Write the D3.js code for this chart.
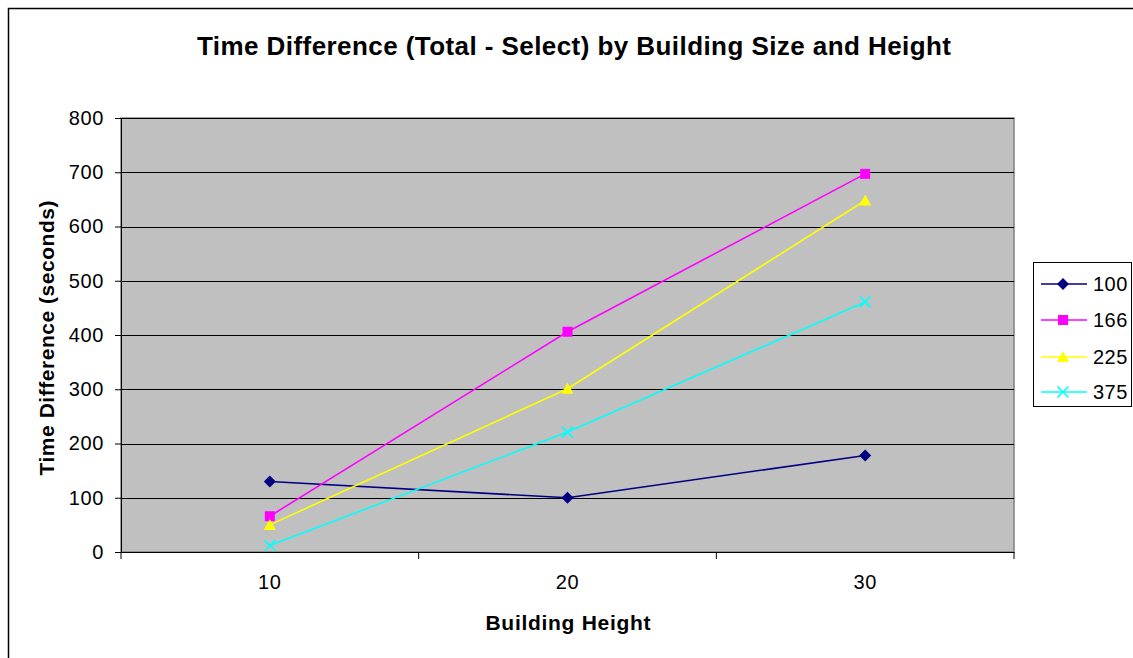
<!DOCTYPE html>
<html><head><meta charset="utf-8">
<script src="https://cdn.jsdelivr.net/npm/d3@7"></script>
<style>body{margin:0;background:#fff}svg{display:block;font-family:"Liberation Sans",Arial,sans-serif}</style>
</head><body><svg id="c" width="1133" height="658"></svg>
<script>
const categories = ["10", "20", "30"];
const seriesNames = ["100", "166", "225", "375"];
const s100 = [130, 100, 178];
const s166 = [66, 406, 697];
const s225 = [50, 301, 648];
const s375 = [12, 221, 461];
const yTicks = [0, 100, 200, 300, 400, 500, 600, 700, 800];
const colors = ["#000080", "#FF00FF", "#FFFF00", "#00FFFF"];
const symbols = ["diamond", "square", "triangle", "x"];

const seriesValues = [s100, s166, s225, s375];
const svg = d3.select("#c");
const L = 121, R = 1014, T = 118, B = 552;
const FONT = "Liberation Sans, Arial, sans-serif";

// outer border
svg.append("path").attr("d", "M8.5,660 V8.5 H1140").attr("fill", "none").attr("stroke", "#000").attr("stroke-width", 1.5);

const x = d3.scaleBand().domain(categories).range([L, R]);
const y = d3.scaleLinear().domain([0, 800]).range([B, T]);

svg.append("rect").attr("x", L).attr("y", T).attr("width", R - L).attr("height", B - T)
  .attr("fill", "#C0C0C0").attr("stroke", "#808080").attr("stroke-width", 1.5);

// gridlines
svg.append("g").selectAll("line").data(yTicks.filter(d => d > 0)).join("line")
  .attr("x1", L).attr("x2", R).attr("y1", d => Math.round(y(d)) + 0.5).attr("y2", d => Math.round(y(d)) + 0.5)
  .attr("stroke", "#000").attr("stroke-width", 1);

// y axis
const ya = svg.append("g").attr("transform", `translate(${L},0)`)
  .call(d3.axisLeft(y).tickValues(yTicks).tickSize(6).tickPadding(11));
ya.select(".domain").attr("stroke", "#000");
ya.selectAll("text").attr("font-size", 20).attr("fill", "#000").attr("font-family", FONT).attr("letter-spacing", 0.6);

// x axis
const xa = svg.append("g").attr("transform", `translate(0,${B})`)
  .call(d3.axisBottom(x).tickSize(0).tickPadding(23));
xa.select(".domain").attr("stroke", "#000");
xa.selectAll("text").attr("font-size", 20).attr("fill", "#000").attr("font-family", FONT).attr("letter-spacing", 0.6);
const bounds = [L, ...categories.map(c => x(c) + x.bandwidth())];
svg.append("g").selectAll("line").data(bounds).join("line")
  .attr("x1", d => d).attr("x2", d => d).attr("y1", B).attr("y2", B + 7).attr("stroke", "#000");

const shapes = {
  diamond: "M0,-6L6,0L0,6L-6,0Z",
  square: "M-5,-5H5V5H-5Z",
  triangle: "M0,-6L6,5H-6Z",
  x: "M-5.5,-5.5L5.5,5.5M-5.5,5.5L5.5,-5.5"
};
function drawMark(sel, i) {
  const isX = symbols[i] === "x";
  sel.attr("d", shapes[symbols[i]])
    .attr("fill", isX ? "none" : colors[i])
    .attr("stroke", colors[i]).attr("stroke-width", isX ? 1.6 : 0);
}

const line = d3.line().x((d, i) => x(categories[i]) + x.bandwidth() / 2).y(d => y(d));
seriesValues.forEach((vals, i) => {
  const g = svg.append("g");
  g.append("path").attr("d", line(vals)).attr("fill", "none").attr("stroke", colors[i]).attr("stroke-width", 1.6);
  g.selectAll("path.m").data(vals).join("path").attr("class", "m")
    .attr("transform", (d, j) => `translate(${x(categories[j]) + x.bandwidth() / 2},${y(d)})`)
    .call(drawMark, i);
});

// title
svg.append("text").attr("x", 574).attr("y", 55).attr("text-anchor", "middle")
  .attr("font-size", 26).attr("font-weight", "bold").attr("textLength", 754).attr("lengthAdjust", "spacing")
  .text("Time Difference (Total - Select) by Building Size and Height");
// axis titles
svg.append("text").attr("transform", `translate(54,338) rotate(-90)`).attr("text-anchor", "middle")
  .attr("font-size", 21).attr("font-weight", "bold").attr("textLength", 275).attr("lengthAdjust", "spacing")
  .text("Time Difference (seconds)");
svg.append("text").attr("x", 568).attr("y", 630).attr("text-anchor", "middle")
  .attr("font-size", 21).attr("font-weight", "bold").attr("textLength", 165).attr("lengthAdjust", "spacing")
  .text("Building Height");

// legend
const lg = svg.append("g");
lg.append("rect").attr("x", 1033.5).attr("y", 262.5).attr("width", 98).attr("height", 144)
  .attr("fill", "#fff").attr("stroke", "#000").attr("stroke-width", 1);
const ly = [284, 320, 357, 392];
seriesNames.forEach((n, i) => {
  lg.append("line").attr("x1", 1041).attr("x2", 1087).attr("y1", ly[i]).attr("y2", ly[i]).attr("stroke", colors[i]).attr("stroke-width", 1.6);
  lg.append("path").attr("transform", `translate(1063,${ly[i]})`).call(drawMark, i);
  lg.append("text").attr("x", 1093).attr("y", ly[i] + 7).attr("font-size", 20).attr("letter-spacing", 0.5).text(n);
});
</script></body></html>
